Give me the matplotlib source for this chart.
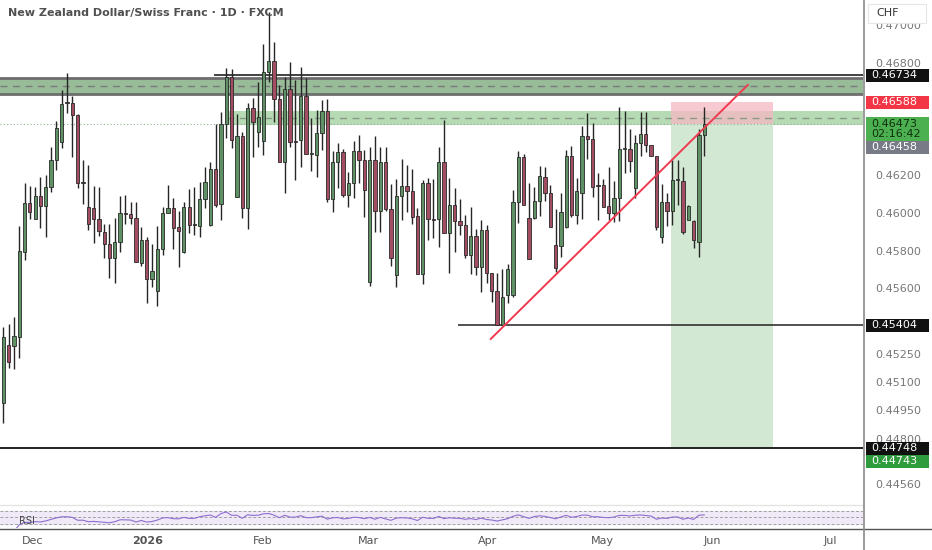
import matplotlib
matplotlib.use("Agg")
import matplotlib.pyplot as plt
from matplotlib.patches import Rectangle
from matplotlib.lines import Line2D
import numpy as np
import pandas as pd

# daily candles NZD/CHF, oldest first
opens = [0.44989, 0.45297, 0.45292, 0.45340, 0.45792, 0.46053, 0.45968, 0.46090, 0.46037, 0.46138,
         0.46282, 0.46377, 0.46585, 0.46585, 0.46521, 0.46160, 0.46032, 0.46027, 0.45968, 0.45898,
         0.45835, 0.45760, 0.45845, 0.46000, 0.45995, 0.45973, 0.45734, 0.45856, 0.45649, 0.45585,
         0.45808, 0.46000, 0.46027, 0.45925, 0.45792, 0.46032, 0.45936, 0.45931, 0.46075, 0.45936,
         0.46234, 0.46048, 0.46473, 0.46723, 0.46085, 0.46409, 0.46027, 0.46559, 0.46431, 0.46383,
         0.46750, 0.46808, 0.46606, 0.46271, 0.46660, 0.46383, 0.46388, 0.46622, 0.46314, 0.46308,
         0.46425, 0.46543, 0.46075, 0.46271, 0.46324, 0.46095, 0.46159, 0.46330, 0.46282, 0.45633,
         0.46282, 0.46011, 0.46271, 0.46021, 0.45670, 0.46090, 0.46143, 0.46117, 0.45984, 0.45676,
         0.46159, 0.45968, 0.45968, 0.46271, 0.45893, 0.46043, 0.45957, 0.45936, 0.45776, 0.45877,
         0.45713, 0.45909, 0.45681, 0.45585, 0.45404, 0.45564, 0.45564, 0.46059, 0.46298, 0.45973,
         0.45973, 0.46064, 0.46191, 0.46106, 0.45830, 0.45824, 0.45925, 0.46303, 0.45989, 0.46106,
         0.46409, 0.46393, 0.46148, 0.46148, 0.46037, 0.46000, 0.46080, 0.46340, 0.46340, 0.46132,
         0.46372, 0.46420, 0.46361, 0.46303, 0.45872, 0.46059, 0.46011, 0.46175, 0.46170, 0.45963,
         0.45957, 0.45845, 0.46415]
highs = [0.45394, 0.45410, 0.45447, 0.45931, 0.46159, 0.46143, 0.46138, 0.46191, 0.46202, 0.46351,
         0.46490, 0.46654, 0.46745, 0.46622, 0.46527, 0.46282, 0.46255, 0.46143, 0.46138, 0.45941,
         0.45941, 0.45973, 0.46090, 0.46095, 0.46059, 0.46059, 0.45925, 0.45872, 0.45835, 0.45931,
         0.46032, 0.46148, 0.46080, 0.46011, 0.46059, 0.46127, 0.46138, 0.46165, 0.46244, 0.46271,
         0.46473, 0.46537, 0.46771, 0.46766, 0.46527, 0.46431, 0.46585, 0.46612, 0.46697, 0.46899,
         0.47069, 0.46910, 0.46681, 0.46723, 0.46803, 0.46707, 0.46777, 0.46718, 0.46505, 0.46548,
         0.46601, 0.46606, 0.46330, 0.46372, 0.46340, 0.46218, 0.46383, 0.46415, 0.46335, 0.46351,
         0.46409, 0.46351, 0.46351, 0.46154, 0.46181, 0.46287, 0.46255, 0.46234, 0.46027, 0.46175,
         0.46186, 0.46181, 0.46351, 0.46495, 0.46186, 0.46132, 0.46075, 0.45989, 0.46032, 0.45915,
         0.45963, 0.45936, 0.45681, 0.45681, 0.45702, 0.45729, 0.46122, 0.46330, 0.46314, 0.46159,
         0.46138, 0.46250, 0.46244, 0.46148, 0.46021, 0.46106, 0.46335, 0.46356, 0.46186, 0.46463,
         0.46532, 0.46479, 0.46213, 0.46181, 0.46244, 0.46170, 0.46564, 0.46543, 0.46447, 0.46415,
         0.46537, 0.46537, 0.46361, 0.46303, 0.46154, 0.46106, 0.46282, 0.46282, 0.46244, 0.46043,
         0.45963, 0.46447, 0.46564]
lows = [0.44883, 0.45175, 0.45170, 0.45228, 0.45750, 0.45968, 0.45968, 0.45920, 0.45872, 0.46111,
        0.46229, 0.46345, 0.46532, 0.46298, 0.46132, 0.46048, 0.45909, 0.45840, 0.45877, 0.45760,
        0.45654, 0.45627, 0.45792, 0.45941, 0.45941, 0.45739, 0.45718, 0.45521, 0.45606, 0.45505,
        0.45776, 0.46000, 0.45808, 0.45713, 0.45787, 0.45893, 0.45882, 0.45872, 0.46027, 0.45931,
        0.46032, 0.45963, 0.46399, 0.46345, 0.46085, 0.45973, 0.45915, 0.46298, 0.46351, 0.46308,
        0.46697, 0.46484, 0.46271, 0.46106, 0.46351, 0.46175, 0.46244, 0.46314, 0.46223, 0.46191,
        0.46335, 0.46059, 0.46005, 0.46132, 0.46085, 0.46032, 0.46080, 0.46159, 0.45979, 0.45612,
        0.45898, 0.45898, 0.46011, 0.45718, 0.45606, 0.45963, 0.46005, 0.45941, 0.45676, 0.45622,
        0.45856, 0.45866, 0.45819, 0.45893, 0.45681, 0.45792, 0.45882, 0.45760, 0.45676, 0.45670,
        0.45580, 0.45627, 0.45527, 0.45404, 0.45404, 0.45521, 0.45553, 0.45947, 0.46043, 0.45755,
        0.45968, 0.45984, 0.46064, 0.45925, 0.45686, 0.45766, 0.45920, 0.45979, 0.45941, 0.45968,
        0.46287, 0.46085, 0.45963, 0.46032, 0.45963, 0.45952, 0.45957, 0.46213, 0.46218, 0.46080,
        0.46303, 0.46324, 0.46303, 0.45909, 0.45840, 0.45931, 0.45936, 0.46043, 0.45888, 0.45963,
        0.45814, 0.45766, 0.46303]
closes = [0.45340, 0.45207, 0.45345, 0.45798, 0.46053, 0.46005, 0.46090, 0.46037, 0.46138, 0.46282,
          0.46452, 0.46580, 0.46590, 0.46521, 0.46159, 0.46165, 0.45941, 0.45968, 0.45904, 0.45835,
          0.45760, 0.45845, 0.46000, 0.45995, 0.45973, 0.45739, 0.45856, 0.45649, 0.45691, 0.45808,
          0.46000, 0.46027, 0.45920, 0.45904, 0.46032, 0.45936, 0.45940, 0.46075, 0.46165, 0.46234,
          0.46043, 0.46473, 0.46723, 0.46388, 0.46409, 0.46027, 0.46559, 0.46484, 0.46511, 0.46750,
          0.46808, 0.46606, 0.46271, 0.46660, 0.46377, 0.46378, 0.46622, 0.46314, 0.46318, 0.46425,
          0.46543, 0.46075, 0.46271, 0.46324, 0.46095, 0.46159, 0.46330, 0.46282, 0.46122, 0.46282,
          0.46011, 0.46271, 0.46021, 0.45760, 0.46090, 0.46143, 0.46117, 0.45979, 0.45676, 0.46159,
          0.45968, 0.45965, 0.46271, 0.45893, 0.46043, 0.45957, 0.45936, 0.45776, 0.45877, 0.45713,
          0.45909, 0.45681, 0.45585, 0.45404, 0.45553, 0.45702, 0.46059, 0.46298, 0.46043, 0.45755,
          0.46064, 0.46197, 0.46106, 0.45925, 0.45707, 0.46005, 0.46303, 0.45989, 0.46117, 0.46409,
          0.46393, 0.46138, 0.46143, 0.46032, 0.46000, 0.46080, 0.46340, 0.46345, 0.46277, 0.46372,
          0.46420, 0.46361, 0.46303, 0.45925, 0.46059, 0.46011, 0.46175, 0.46180, 0.45898, 0.46037,
          0.45856, 0.46415, 0.46473]

# price axis ticks as shown
yticks = [0.47000, 0.46800, 0.46200, 0.46000, 0.45800, 0.45600, 0.45250, 0.45100, 0.44950, 0.44800, 0.44560]
# month labels and the bar positions they sit at
month_labels = ["Dec", "2026", "Feb", "Mar", "Apr", "May", "Jun", "Jul"]
month_pos = [5.6, 27.1, 48.9, 68.7, 91.1, 112.8, 133.5, 155.7]

# levels drawn on the chart
zone_top = (0.46718, 0.46633)     # dark resistance zone
zone_mid = (0.46543, 0.46468)     # light zone
res_line = 0.46734
sup_line = 0.45404
bottom_line = 0.44748
stop_price = 0.46588
entry_price = 0.46473
target_price = 0.44743
trend_x = [91.8, 140.2]
trend_y = [0.45330, 0.46681]

W, H = 932, 550
fig = plt.figure(figsize=(W / 100, H / 100), dpi=100)
ax = fig.add_axes([0, 46 / H, 863 / W, 504 / H])
rsi_ax = fig.add_axes([0, 22 / H, 863 / W, 22 / H])

n = len(closes)
x = np.arange(n)
o = np.array(opens); c = np.array(closes)
hi = np.array(highs); lo = np.array(lows)
up = c >= o
green = "#5e9163"
red = "#a34d62"

xmin, xmax = -0.62, 161.9
ax.set_xlim(xmin, xmax)
ax.set_ylim(0.44452, 0.47133)

# zones
ax.axhspan(zone_top[1], zone_top[0], color="#98bb98", zorder=1)
ax.axhline(zone_top[0], color="#6e6e6e", lw=2, zorder=2)
ax.axhline(zone_top[1], color="#6e6e6e", lw=2, zorder=2)
ax.axhline(sum(zone_top) / 2, color="#7a7a7a", lw=1, ls=(0, (5, 4)), zorder=2)
ax.hlines(res_line, 39.7, xmax, color="#333333", lw=1.3, zorder=2)

ax.add_patch(Rectangle((42.1, zone_mid[1]), xmax - 42.1, zone_mid[0] - zone_mid[1],
                       color="#a9d4a6", alpha=0.85, lw=0, zorder=1))
ax.hlines(sum(zone_mid) / 2, 42.1, xmax, color="#8a9a8a", lw=1, ls=(0, (5, 4)), zorder=2)

# short position box
ax.add_patch(Rectangle((125.7, entry_price), 19.3, stop_price - entry_price,
                       color="#f5b8c2", alpha=0.75, lw=0, zorder=1.5))
ax.add_patch(Rectangle((125.7, target_price), 19.3, entry_price - target_price,
                       color="#d3e8d3", lw=0, zorder=1))

# current price dotted line
ax.axhline(entry_price, color="#8fb08f", lw=0.8, ls=(0, (1, 2)), zorder=2)

ax.hlines(sup_line, 85.6, xmax, color="#222222", lw=1.1, zorder=2)
ax.axhline(bottom_line, color="#222222", lw=1.4, zorder=2)

# candles
ax.vlines(x, lo, hi, color="#262626", lw=1, zorder=3)
body_low = np.minimum(o, c)
body_h = np.maximum(np.abs(c - o), 0.00003)
ax.bar(x, body_h, bottom=body_low, width=0.62, color=np.where(up, green, red),
       edgecolor="#2a2a2a", linewidth=0.6, zorder=4)

ax.plot(trend_x, trend_y, color="#f03a4f", lw=1.4, zorder=5)

ax.set_xticks([])
ax.yaxis.tick_right()
ax.set_yticks(yticks)
ax.set_yticklabels([f"{v:.5f}" for v in yticks], color="#777777", fontsize=8)
ax.tick_params(axis="y", length=0, pad=9)
for s in ax.spines.values():
    s.set_visible(False)

ax.text(0.009, 0.975, "New Zealand Dollar/Swiss Franc \u00b7 1D \u00b7 FXCM", transform=ax.transAxes,
        fontsize=8, color="#505050", fontweight="semibold", va="center")

# price labels on the axis
ytr = ax.get_yaxis_transform()
ppx = (0.47133 - 0.44452) / 504.0


def price_box(yc, text, fc, tc, lines=1):
    h = (13 + 11 * (lines - 1)) * ppx
    ax.add_patch(Rectangle((1.0035, yc - h / 2), 0.073, h, transform=ytr, clip_on=False,
                           facecolor=fc, edgecolor="none", zorder=10))
    ax.text(1.009, yc, text, transform=ytr, fontsize=8, color=tc, va="center", ha="left",
            clip_on=False, zorder=11, linespacing=1.1)


price_box(res_line, "0.46734", "#111111", "white")
price_box(stop_price, "0.46588", "#f23645", "white")
price_box(entry_price - 5 * ppx, "0.46473\n02:16:42", "#4caf50", "#10300f", lines=2)
price_box(entry_price - 23 * ppx, "0.46458", "#787b86", "white")
price_box(sup_line, "0.45404", "#111111", "white")
price_box(bottom_line, "0.44748", "#111111", "white")
price_box(bottom_line - 13 * ppx, "0.44743", "#2e9b3c", "white")

fig.patches.append(Rectangle((868 / W, 1 - 23 / H), 58 / W, 19 / H, transform=fig.transFigure,
                             facecolor="white", edgecolor="#e6e6e6", lw=0.8))
fig.text(876 / W, 1 - 13 / H, "CHF", fontsize=8, color="#333333", va="center")

# RSI pane
cs = pd.Series(closes)
d = cs.diff()
gain = d.clip(lower=0).ewm(alpha=1 / 14, adjust=False).mean()
loss = (-d.clip(upper=0)).ewm(alpha=1 / 14, adjust=False).mean()
rsi = 100 - 100 / (1 + gain / loss)
rsi_ax.set_xlim(xmin, xmax)
rsi_ax.set_ylim(17, 85)
rsi_ax.axhspan(30, 70, color="#efe9f8", zorder=0)
for lv in (70, 50, 30):
    rsi_ax.axhline(lv, color="#a0a0a0", lw=0.7, ls=(0, (3, 2)), zorder=1)
rsi_ax.plot(x[1:], rsi[1:], color="#8e6fd0", lw=0.8, zorder=2)
rsi_ax.text(3, 40, "RSI", fontsize=7, color="#444444", va="center")
rsi_ax.set_yticks([])
rsi_ax.set_xticks(month_pos)
rsi_ax.set_xticklabels(month_labels, fontsize=8, color="#555555")
rsi_ax.get_xticklabels()[1].set_fontweight("bold")
rsi_ax.tick_params(axis="x", length=0, pad=6)
for s in rsi_ax.spines.values():
    s.set_visible(False)

fig.lines.append(Line2D([0, 863 / W], [1 - 505 / H] * 2, transform=fig.transFigure, color="#e4e4e4", lw=1))
fig.lines.append(Line2D([0, 1], [1 - 528.5 / H] * 2, transform=fig.transFigure, color="#555555", lw=1))
fig.lines.append(Line2D([863.5 / W] * 2, [0, 1], transform=fig.transFigure, color="#8a8a8a", lw=1.2))

fig.savefig("out.png", dpi=100)
